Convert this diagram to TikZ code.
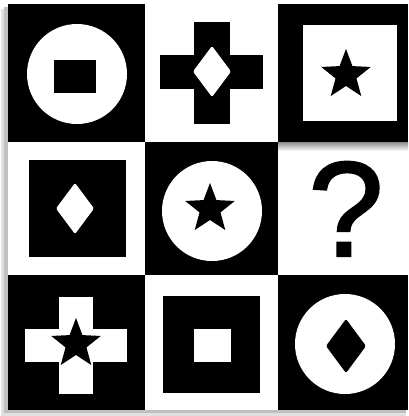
\documentclass[tikz,border=0pt]{standalone}
\usepackage{fontspec}
\newfontfamily\qfont[FakeBold=1.6]{Liberation Sans}
\begin{document}
\begin{tikzpicture}[x=1pt,y=-1pt,
  blk/.style={fill=black},
  wht/.style={fill=white},
  starpic/.pic={\fill[pic actions] (270:26) -- (306:11) -- (342:26) -- (18:11) -- (54:26) -- (90:11) -- (126:26) -- (162:11) -- (198:26) -- (234:11) -- cycle;}]
\useasboundingbox (0,0) rectangle (408,416);
% soft shadow
\fill[black!12] (1,9) rectangle (406,416);
\fill[black!25] (4,7) rectangle (406,413);
% cells
\fill[blk] (8,4) rectangle (145,142);
\fill[wht] (145,4) rectangle (278,142);
\fill[blk] (278,4) rectangle (408,142);
\fill[wht] (8,142) rectangle (145,275);
\fill[blk] (145,142) rectangle (278,275);
\fill[wht] (278,142) rectangle (408,275);
\fill[blk] (8,275) rectangle (145,410);
\fill[wht] (145,275) rectangle (278,410);
\fill[blk] (278,275) rectangle (408,410);
% inner shadow of the ? cell
\shade[top color=black!45,bottom color=white] (278,142) rectangle (408,151);
% row 1
\fill[wht] (77,74) circle (50);
\fill[blk] (54,60) rectangle (96,93);
\fill[blk] (194,22) rectangle (230,124);
\fill[blk] (160,55) rectangle (263,89);
\fill[wht,rounded corners=1.5pt] (212,46) -- (231,71.5) -- (212,97) -- (193,71.5) -- cycle;
\fill[wht] (303,25) rectangle (397,121);
\pic[fill=black] at (346,75) {starpic};
% row 2
\fill[blk] (29,160) rectangle (126,257);
\fill[wht,rounded corners=1.5pt] (75,183) -- (94,208.5) -- (75,234) -- (56,208.5) -- cycle;
\fill[wht] (212,211) circle (50);
\pic[fill=black] at (210,209) {starpic};
\node[anchor=base,inner sep=0pt,font=\qfont\fontsize{135}{135}\selectfont] (q) at (346,256) {?};
% row 3
\fill[wht] (59,297) rectangle (93,394);
\fill[wht] (25,329) rectangle (127,362);
\pic[fill=black] at (76,344) {starpic};
\fill[blk] (163,296) rectangle (260,393);
\fill[wht] (194,329) rectangle (231,362);
\fill[wht] (345,344) circle (50);
\fill[blk,rounded corners=1.5pt] (346,319) -- (366,346) -- (346,373) -- (326,346) -- cycle;
\end{tikzpicture}
\end{document}
